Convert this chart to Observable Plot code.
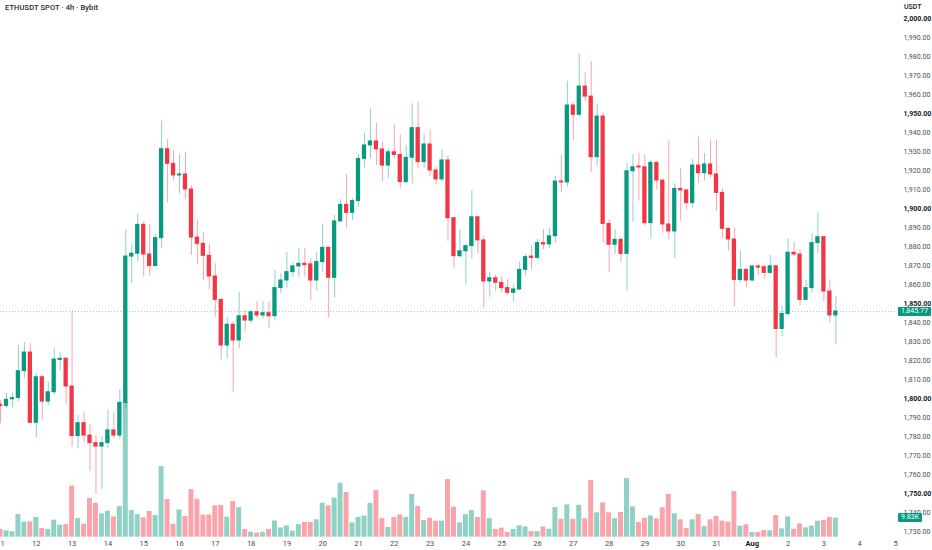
<!DOCTYPE html>
<html><head><meta charset="utf-8">
<script src="https://cdn.jsdelivr.net/npm/d3@7"></script>
<script src="https://cdn.jsdelivr.net/npm/@observablehq/plot@0.6"></script>
<style>
body{margin:0;background:#fff;font-family:Roboto,"Liberation Sans",sans-serif;}
#wrap{position:relative;width:932px;height:550px;overflow:hidden;background:#fff;}
#wrap svg{position:absolute;left:0;top:0;}
.title{position:absolute;left:5px;top:3px;font-size:7.5px;color:#1c2a26;font-weight:500;letter-spacing:0.1px}
.unit{position:absolute;left:904px;top:3px;font-size:7px;color:#131722;font-weight:500}
.tag{position:absolute;left:898px;height:9px;line-height:9px;font-size:7px;color:#fff;background:#089981;padding:0 3px;border-radius:1px}
</style></head><body>
<div id="wrap"></div>
<script>
// 4h candles, ETHUSDT spot (Bybit), starting 11 Jul 00:00 UTC
const startTime = Date.UTC(2023, 6, 11, 0, 0);
const open = [1796.6,1796.1,1799.6,1800.3,1814.4,1824.2,
1787.2,1811.2,1798.4,1803.3,1820.3,1820.9,
1806.3,1780.2,1787.0,1780.5,1776.5,1774.7,
1776.5,1783.2,1780.5,1797.7,1874.7,1876.2,
1891.4,1875.8,1869.7,1884.4,1931.2,1923.5,
1917.4,1917.9,1910.0,1884.7,1881.4,1875.1,
1864.2,1851.9,1827.9,1838.8,1830.5,1843.3,
1841.0,1845.4,1843.7,1844.9,1843.3,1858.1,
1862.1,1866.5,1869.5,1870.9,1870.6,1862.1,
1871.8,1879.3,1863.5,1893.2,1901.9,1897.7,
1903.9,1926.1,1933.2,1935.3,1931.1,1922.6,
1929.6,1928.2,1913.9,1926.7,1942.3,1924.4,
1933.7,1920.0,1915.3,1925.3,1894.9,1874.9,
1877.5,1880.2,1895.4,1883.2,1861.6,1863.3,
1860.9,1858.1,1855.6,1857.4,1867.7,1874.7,
1874.0,1881.8,1881.1,1885.4,1914.2,1913.7,
1954.2,1949.3,1964.2,1958.9,1927.0,1948.4,
1891.9,1880.9,1883.5,1876.1,1919.6,1922.1,
1921.7,1892.3,1924.0,1914.7,1891.6,1887.9,
1910.3,1909.5,1902.8,1922.6,1918.6,1923.2,
1917.9,1908.2,1889.3,1883.7,1862.4,1867.7,
1862.1,1869.5,1869.1,1866.1,1869.6,1836.6,
1844.5,1876.7,1875.8,1851.9,1858.1,1881.8,
1884.9,1856.3,1843.7];
const high = [1798.9,1802.8,1802.8,1827.9,1829.5,1828.8,
1813.3,1812.1,1808.6,1826.5,1824.0,1821.2,
1845.8,1791.1,1792.8,1786.3,1780.5,1780.0,
1794.2,1792.8,1804.6,1888.8,1881.1,1896.9,
1892.8,1891.6,1886.3,1946.0,1936.3,1930.5,
1928.6,1929.3,1912.1,1894.0,1887.5,1881.4,
1870.9,1852.2,1842.8,1840.2,1856.0,1846.3,
1846.3,1850.9,1850.9,1850.9,1867.4,1865.6,
1876.7,1871.4,1879.1,1878.8,1873.5,1876.7,
1891.4,1879.6,1896.3,1904.7,1917.9,1905.1,
1928.4,1939.8,1952.5,1944.9,1934.9,1931.4,
1944.0,1938.8,1933.2,1955.1,1956.0,1939.3,
1941.0,1921.8,1931.0,1927.4,1895.2,1888.8,
1880.9,1909.5,1895.7,1885.4,1866.5,1865.1,
1864.2,1862.6,1859.8,1871.8,1876.1,1880.5,
1883.7,1888.9,1889.6,1917.0,1927.9,1967.0,
1955.4,1981.4,1971.4,1977.4,1955.1,1950.2,
1894.0,1888.9,1884.4,1923.9,1928.4,1929.1,
1928.2,1925.3,1924.7,1915.0,1935.4,1913.0,
1921.2,1910.3,1925.8,1937.5,1928.8,1936.1,
1935.8,1910.7,1889.8,1889.8,1877.5,1868.2,
1870.0,1870.9,1870.0,1875.3,1870.0,1848.6,
1884.0,1882.3,1878.4,1862.4,1886.7,1898.1,
1885.2,1862.4,1853.8];
const low = [1786.7,1794.6,1795.1,1798.4,1810.4,1786.7,
1779.1,1788.8,1796.3,1801.9,1814.7,1797.2,
1774.4,1773.5,1776.7,1761.7,1749.5,1752.1,
1773.5,1778.8,1778.8,1794.2,1860.4,1871.8,
1863.9,1864.4,1869.7,1879.1,1903.0,1914.4,
1907.7,1904.7,1875.3,1870.4,1862.1,1857.2,
1842.8,1820.4,1820.9,1803.3,1826.1,1834.9,
1839.3,1841.9,1841.9,1837.0,1841.0,1855.1,
1858.1,1863.9,1863.5,1863.9,1851.6,1856.5,
1866.5,1842.5,1853.0,1892.8,1889.6,1893.7,
1900.7,1921.4,1926.1,1922.6,1914.2,1916.0,
1926.1,1910.4,1913.0,1913.0,1920.9,1920.9,
1917.0,1912.5,1913.9,1882.6,1868.6,1873.9,
1859.8,1873.2,1876.1,1847.5,1853.3,1856.3,
1855.6,1854.2,1850.7,1856.8,1864.4,1867.9,
1873.2,1878.4,1878.8,1881.9,1908.3,1911.2,
1935.8,1948.1,1956.3,1918.8,1922.3,1881.9,
1866.1,1875.8,1871.4,1856.3,1892.8,1903.9,
1890.7,1884.0,1909.5,1887.0,1883.7,1873.8,
1893.3,1898.9,1900.2,1913.3,1914.4,1916.0,
1898.6,1884.0,1877.5,1848.1,1860.7,1858.2,
1861.7,1864.7,1862.6,1865.3,1821.4,1832.6,
1843.1,1874.4,1848.9,1851.5,1855.4,1876.1,
1850.7,1839.6,1828.4];
const close = [1796.0,1799.3,1800.2,1814.4,1824.2,1787.2,
1811.2,1798.4,1803.3,1820.5,1820.9,1806.3,
1780.2,1787.0,1780.5,1776.5,1774.7,1776.5,
1783.2,1780.5,1797.7,1874.7,1876.2,1891.4,
1875.8,1869.7,1884.4,1931.2,1923.5,1917.4,
1917.9,1910.0,1884.7,1881.4,1875.1,1864.2,
1851.9,1827.9,1838.8,1830.5,1843.3,1841.0,
1845.4,1843.7,1844.9,1843.3,1858.1,1862.1,
1866.5,1869.5,1870.9,1870.2,1862.1,1871.8,
1879.3,1863.5,1893.2,1901.9,1897.7,1903.9,
1926.1,1933.2,1935.3,1931.1,1922.6,1929.6,
1928.2,1913.9,1926.7,1942.3,1924.4,1933.7,
1920.0,1915.3,1925.3,1894.9,1874.9,1877.5,
1880.2,1895.4,1883.2,1861.6,1863.3,1860.9,
1858.1,1855.6,1857.4,1867.7,1874.4,1874.0,
1881.8,1881.1,1885.4,1914.2,1913.7,1954.2,
1949.3,1964.2,1958.9,1927.0,1948.4,1891.9,
1880.9,1883.5,1876.1,1919.6,1921.7,1921.6,
1892.3,1924.0,1914.7,1891.6,1887.9,1910.3,
1909.5,1902.8,1922.6,1918.6,1923.2,1917.9,
1908.2,1889.3,1883.7,1862.4,1867.7,1862.1,
1869.5,1868.9,1866.1,1869.6,1836.6,1844.5,
1876.7,1875.8,1851.9,1858.1,1881.8,1884.9,
1856.3,1843.7,1845.77];
// volume in thousands
const volume = [4.0,3.3,2.8,11.7,7.8,7.9,
10.2,4.5,4.0,8.8,6.2,6.5,
26.4,9.6,6.7,20.0,17.6,12.1,
13.4,10.5,15.9,69.6,13.8,11.7,
10.0,13.3,11.2,36.5,19.5,6.7,
14.1,10.7,24.6,19.6,11.4,11.5,
16.2,16.4,10.3,18.4,15.3,4.0,
2.6,2.1,2.4,4.0,8.4,4.8,
5.9,3.1,6.5,7.6,7.6,9.0,
17.6,16.2,20.2,27.9,23.1,7.4,
10.2,11.0,17.4,24.1,9.6,5.0,
10.2,11.5,10.2,22.1,15.9,8.6,
9.8,8.3,8.3,29.8,15.5,7.4,
11.7,13.8,10.2,24.0,9.6,4.0,
4.7,2.4,4.0,5.9,5.3,2.9,
2.8,5.3,4.1,15.3,9.3,16.7,
9.3,16.5,9.5,29.3,12.6,17.7,
12.6,9.6,12.8,30.3,15.7,7.6,
9.8,11.0,9.5,15.2,22.1,12.1,
9.0,4.5,9.0,11.7,5.5,9.0,
10.7,8.3,7.8,23.6,5.7,6.4,
2.4,2.4,3.4,3.3,11.2,4.3,
10.5,4.1,6.9,4.8,5.7,8.3,
8.6,10.2,9.83];
const priceTicks = [1730,1740,1750,1760,1770,1780,1790,1800,1810,1820,1830,1840,1850,1860,1870,1880,1890,1900,1910,1920,1930,1940,1950,1960,1970,1980,1990,2000];
const majorPriceTicks = [1750,1800,1850,1900,1950,2000];
const dayTicks = ["2023-07-11","2023-07-12","2023-07-13","2023-07-14","2023-07-15","2023-07-16","2023-07-17","2023-07-18","2023-07-19","2023-07-20","2023-07-21","2023-07-22","2023-07-23","2023-07-24","2023-07-25","2023-07-26","2023-07-27","2023-07-28","2023-07-29","2023-07-30","2023-07-31","2023-08-02","2023-08-03","2023-08-04","2023-08-05"];
const monthTicks = ["2023-08-01"];
const monthLabels = ["Aug"];

const G = "#089981", R = "#f23645";
const H4 = 4 * 3600e3;
const data = open.map((o, i) => ({
  t: new Date(startTime + i * H4), o, h: high[i], l: low[i], c: close[i], v: volume[i],
  col: close[i] >= o ? G : R
}));
const last = data[data.length - 1];
const W = 932, H = 550;
const xScale = {type: "utc", domain: [new Date("2023-07-11T00:00Z"), new Date("2023-08-05T00:00Z")], axis: null};
const bodyHalf = 86 * 60e3, volHalf = 100 * 60e3;
const font = "Roboto, 'Liberation Sans', sans-serif";

const volPlot = Plot.plot({
  width: W, height: H, marginLeft: 0, marginRight: 37, marginTop: 0, marginBottom: 13,
  style: {fontFamily: font, background: "white"},
  x: xScale,
  y: {domain: [0, 100], range: [536.7, 343.3], axis: null},
  marks: [
    Plot.rect(data, {x1: d => new Date(+d.t - volHalf), x2: d => new Date(+d.t + volHalf), y1: 0, y2: "v", fill: "col", fillOpacity: 0.45}),
    Plot.axisX(dayTicks.map(s => new Date(s + "T00:00Z")), {anchor: "bottom", tickSize: 0, tickPadding: 3, fontSize: 7.5, fill: "#4a4d57", tickFormat: d => String(d.getUTCDate()), label: null}),
    Plot.axisX(monthTicks.map(s => new Date(s + "T00:00Z")), {anchor: "bottom", tickSize: 0, tickPadding: 3, fontSize: 7.5, fill: "#131722", fontWeight: "bold", tickFormat: (d, i) => monthLabels[i], label: null})
  ]
});

const pricePlot = Plot.plot({
  width: W, height: H, marginLeft: 0, marginRight: 37, marginTop: 18, marginBottom: 19,
  style: {fontFamily: font, background: "transparent"},
  x: xScale,
  y: {domain: [1730, 2000], range: [531, 18], axis: null},
  marks: [
    Plot.ruleY([last.c], {stroke: G, strokeOpacity: 0.45, strokeDasharray: "1,2"}),
    Plot.ruleX(data, {x: "t", y1: "l", y2: "h", stroke: "col", strokeOpacity: 0.45, strokeWidth: 1}),
    Plot.rect(data, {x1: d => new Date(+d.t - bodyHalf), x2: d => new Date(+d.t + bodyHalf), y1: "o", y2: "c", fill: "col", insetTop: -0.5, insetBottom: -0.5}),
    Plot.axisY(priceTicks.filter(v => !majorPriceTicks.includes(v)), {anchor: "right", tickSize: 0, tickPadding: 8, fontSize: 7, fill: "#4a4d57", tickFormat: d3.format(",.2f"), label: null}),
    Plot.axisY(majorPriceTicks, {anchor: "right", tickSize: 0, tickPadding: 8, fontSize: 7, fill: "#131722", fontWeight: "bold", tickFormat: d3.format(",.2f"), label: null})
  ]
});

const wrap = document.getElementById("wrap");
wrap.appendChild(volPlot);
wrap.appendChild(pricePlot);

const title = document.createElement("div");
title.className = "title"; title.textContent = "ETHUSDT SPOT · 4h · Bybit";
wrap.appendChild(title);
const unit = document.createElement("div");
unit.className = "unit"; unit.textContent = "USDT";
wrap.appendChild(unit);

const py = pricePlot.scale("y").apply(last.c);
const ptag = document.createElement("div");
ptag.className = "tag"; ptag.style.top = (py - 4.5) + "px";
ptag.textContent = d3.format(",.2f")(last.c);
wrap.appendChild(ptag);
const vy = volPlot.scale("y").apply(last.v);
const vtag = document.createElement("div");
vtag.className = "tag"; vtag.style.top = (vy - 4.5) + "px";
vtag.textContent = last.v.toFixed(2) + "K";
wrap.appendChild(vtag);
</script>
</body></html>
